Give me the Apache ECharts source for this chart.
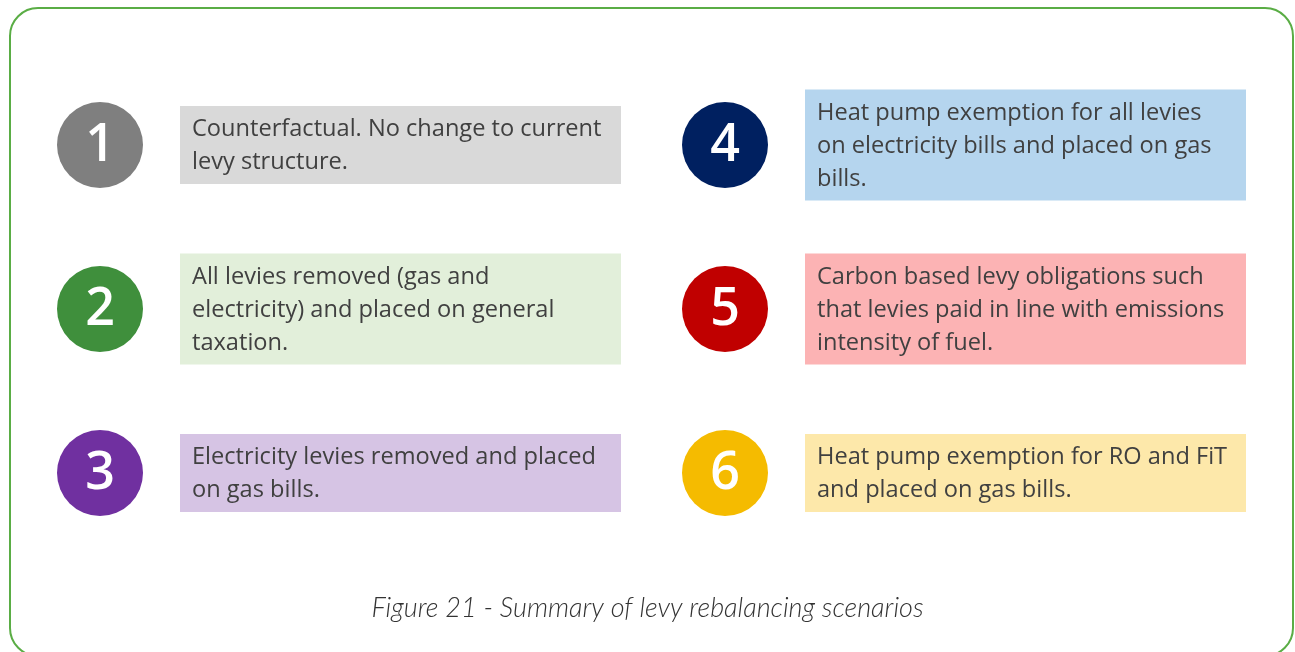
<!DOCTYPE html>
<html>
<head>
<meta charset="utf-8">
<style>
  html, body { margin: 0; padding: 0; background: #fff; }
  #container { width: 1295px; height: 652px; }
</style>
<script src="https://cdn.jsdelivr.net/npm/echarts@6/dist/echarts.min.js"></script>
</head>
<body>
<div id="container"></div>
<script>
// 图表标题
const caption = 'Figure 21 - Summary of levy rebalancing scenarios';

// 两列、三行
const columns = ['left', 'right'];
const rows = ['top', 'middle', 'bottom'];

// 场景编号
const scenarioNumbers = ['1', '2', '3', '4', '5', '6'];
// 场景说明（按原图换行）
const scenarioText = [
  'Counterfactual. No change to current\nlevy structure.',
  'All levies removed (gas and\nelectricity) and placed on general\ntaxation.',
  'Electricity levies removed and placed\non gas bills.',
  'Heat pump exemption for all levies\non electricity bills and placed on gas\nbills.',
  'Carbon based levy obligations such\nthat levies paid in line with emissions\nintensity of fuel.',
  'Heat pump exemption for RO and FiT\nand placed on gas bills.'
];

// 颜色
const circleColors = ['#7f7f7f', '#3f8f3c', '#7030a0', '#002060', '#c00000', '#f5bb00'];
const boxColors = ['#d9d9d9', '#e2efda', '#d6c4e4', '#b5d5ee', '#fcb3b4', '#fde8aa'];

const TEXT_FONT = '"Open Sans", sans-serif';
const NUM_FONT = '"Open Sans", sans-serif';
const CAPTION_FONT = 'Lato, sans-serif';

// 每个场景放在哪一列、哪一行
const data = scenarioNumbers.map((n, i) => [Math.floor(i / 3), i % 3, i]);

function renderItem(params, api) {
  const i = api.value(2);
  const pt = api.coord([api.value(0), api.value(1)]);
  const lines = scenarioText[i].split('\n').length;
  const h = lines * 33 + 12;
  return {
    type: 'group',
    children: [
      {
        type: 'rect',
        shape: { x: pt[0] + 80, y: pt[1] - h / 2, width: 441, height: h },
        style: { fill: boxColors[i] }
      },
      {
        type: 'text',
        style: {
          text: scenarioText[i],
          x: pt[0] + 92,
          y: pt[1] + 1,
          verticalAlign: 'middle',
          align: 'left',
          fontFamily: TEXT_FONT,
          fontSize: 23.6,
          lineHeight: 33,
          fill: '#404040'
        }
      },
      {
        type: 'circle',
        shape: { cx: pt[0], cy: pt[1], r: 43 },
        style: { fill: circleColors[i] }
      },
      {
        type: 'text',
        style: {
          text: scenarioNumbers[i],
          x: pt[0],
          y: pt[1] + 1,
          align: 'center',
          verticalAlign: 'middle',
          fontFamily: NUM_FONT,
          fontWeight: 600,
          fontSize: 52,
          fill: '#ffffff'
        }
      }
    ]
  };
}

const myChart = echarts.init(document.getElementById('container'));
const option = {
  animation: false,
  title: {
    text: caption,
    left: 'center',
    top: 590,
    textStyle: {
      fontFamily: CAPTION_FONT,
      fontStyle: 'italic',
      fontWeight: 300,
      fontSize: 27,
      color: '#333333'
    }
  },
  graphic: [
    {
      type: 'rect',
      shape: { x: 10, y: 8, width: 1283, height: 648, r: 28 },
      style: { fill: 'none', stroke: '#5aad45', lineWidth: 2 },
      silent: true
    }
  ],
  grid: { left: 100, right: 570, top: 145, bottom: 179 },
  xAxis: { type: 'category', data: columns, boundaryGap: false, show: false },
  yAxis: { type: 'category', data: rows, inverse: true, boundaryGap: false, show: false },
  series: [
    {
      type: 'custom',
      renderItem: renderItem,
      encode: { x: 0, y: 1 },
      data: data
    }
  ]
};
myChart.setOption(option);
</script>
</body>
</html>
